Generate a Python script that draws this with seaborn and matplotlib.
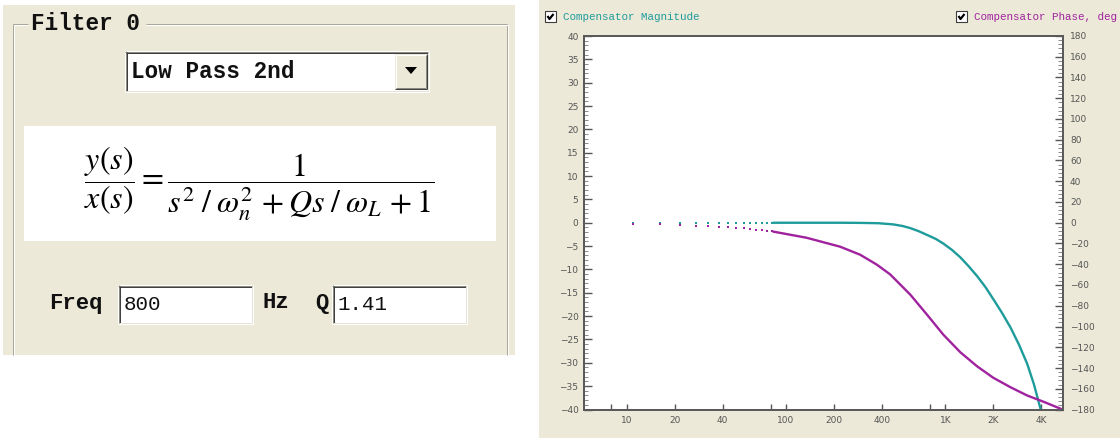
import matplotlib
matplotlib.use("Agg")
import matplotlib.pyplot as plt
import seaborn as sns
import pandas as pd
from matplotlib.patches import Rectangle, Polygon
from matplotlib.ticker import FixedLocator, MultipleLocator, NullFormatter, FixedFormatter

# ---------------- data ----------------
dot_freq_hz = [10.9, 16.3, 21.7, 27.1, 32.6, 38.0, 43.4, 48.9, 54.3, 59.7, 65.2, 70.6, 76.0, 81.4]
dot_mag_db = [0, 0, 0, 0, 0, 0, 0, 0, 0, 0, 0, 0, 0, 0]
dot_phase_deg = [-1.0, -1.6, -2.2, -2.7, -3.3, -3.8, -4.4, -5.0, -5.5, -6.1, -6.6, -7.2, -7.7, -8.3]

mag_freq_hz = [83, 150, 220, 292, 380, 471, 540, 603, 680, 767, 870, 971, 1100, 1242,
               1400, 1581, 1780, 2005, 2260, 2563, 2900, 3265, 3600, 3954, 4100]
mag_db = [0, 0, 0, -0.03, -0.1, -0.35, -0.7, -1.15, -1.8, -2.6, -3.45, -4.45, -5.8, -7.4,
          -9.3, -11.4, -13.7, -16.4, -19.2, -22.4, -26.1, -30.2, -34.6, -39.8, -43.0]

phase_freq_hz = [83, 135, 219, 292, 372, 451, 603, 767, 971, 1242, 1581, 2005, 2563,
                 3265, 4146, 5300, 5480]
phase_deg = [-8.5, -14.5, -23.1, -30.8, -40.4, -49.8, -69.3, -88.5, -107.8, -124.8,
             -138.3, -149.5, -158.5, -166.5, -172.6, -179.3, -180.0]

x_tick_values = [10, 20, 40, 100, 200, 400, 1000, 2000, 4000]
x_tick_labels = ["10", "20", "40", "100", "200", "400", "1K", "2K", "4K"]
x_extra_ticks = [8, 80, 800]

filter_title = "Filter 0"
filter_type = "Low Pass 2nd"
freq_value = "800"
q_value = "1.41"
legend_mag = "Compensator Magnitude"
legend_phase = "Compensator Phase, deg"

# ---------------- style ----------------
sns.set_style("white")
plt.rcParams["mathtext.fontset"] = "stix"
plt.rcParams["font.family"] = ["DejaVu Sans"]

TEAL = "#1e9b9b"
PURPLE = "#a0229e"
BEIGE = "#ECE9D8"
GRID = "#5a5a5a"
MONO = "Liberation Mono"

fig = plt.figure(figsize=(11.2, 4.38), dpi=100)
fig.patch.set_facecolor("white")

bg = fig.add_axes([0, 0, 1, 1], zorder=0)
bg.set_xlim(0, 1120)
bg.set_ylim(438, 0)
bg.axis("off")


def hline(x0, x1, y, c, w=1.0):
    bg.plot([x0, x1], [y, y], color=c, lw=w * 0.72, solid_capstyle="butt")


def vline(x, y0, y1, c, w=1.0):
    bg.plot([x, x], [y0, y1], color=c, lw=w * 0.72, solid_capstyle="butt")


def sunken(x0, y0, x1, y1):
    bg.add_patch(Rectangle((x0, y0), x1 - x0, y1 - y0, fc="white", ec="none"))
    hline(x0, x1, y0 + 0.5, "#8a8a80")
    vline(x0 + 0.5, y0, y1, "#8a8a80")
    hline(x0 + 1, x1 - 1, y0 + 1.5, "#404040")
    vline(x0 + 1.5, y0 + 1, y1 - 1, "#404040")
    hline(x0, x1, y1 - 0.5, "#ffffff")
    vline(x1 - 0.5, y0, y1, "#ffffff")
    hline(x0 + 1, x1 - 1, y1 - 1.5, "#e4e2d6")
    vline(x1 - 1.5, y0 + 1, y1 - 1, "#e4e2d6")


# ---------------- left panel ----------------
bg.add_patch(Rectangle((3, 5), 512, 350, fc=BEIGE, ec="none"))
for off, c in ((0, "#aca899"), (1, "#ffffff")):
    hline(13 + off, 28, 24 + off, c)
    hline(146, 507 + off, 24 + off, c)
    vline(13 + off, 24 + off, 355, c)
    vline(507 + off, 24 + off, 355, c)
bg.text(31, 24, filter_title, family=MONO, weight="bold", fontsize=16.3,
        ha="left", va="center", color="#111111")

# dropdown
sunken(125, 51, 429, 92)
bg.add_patch(Rectangle((395, 54), 32, 35, fc=BEIGE, ec="none"))
hline(395, 427, 54.5, "#ffffff")
vline(395.5, 54, 89, "#ffffff")
hline(395, 427, 88.5, "#404040")
vline(426.5, 54, 89, "#404040")
hline(396, 426, 87.5, "#8a8a80")
vline(425.5, 55, 88, "#8a8a80")
bg.add_patch(Polygon([[405, 67], [417, 67], [411, 74]], closed=True, fc="black", ec="none"))
bg.text(131, 71, filter_type, family=MONO, weight="bold", fontsize=16.3,
        ha="left", va="center", color="#111111")

# formula box
bg.add_patch(Rectangle((24, 126), 472, 115, fc="white", ec="none"))
bg.text(259, 184,
        r"$\dfrac{y(s)}{x(s)}=\dfrac{1}{s^2\;/\;\omega_n^2\,+Qs\;/\;\omega_L\,+1}$",
        fontsize=23, ha="center", va="center", color="black")

# freq / Q row
bg.text(49, 303, "Freq", family=MONO, weight="bold", fontsize=16,
        ha="left", va="center", color="#111111")
sunken(118, 285, 253, 324)
bg.text(124, 305, freq_value, family=MONO, fontsize=15, ha="left", va="center", color="#111111")
bg.text(262, 303, "Hz", family=MONO, weight="bold", fontsize=16,
        ha="left", va="center", color="#111111")
bg.text(315, 303, "Q", family=MONO, weight="bold", fontsize=16,
        ha="left", va="center", color="#111111")
sunken(332, 285, 467, 324)
bg.text(337, 305, q_value, family=MONO, fontsize=15, ha="left", va="center", color="#111111")

# ---------------- right panel ----------------
bg.add_patch(Rectangle((539, 0), 581, 438, fc=BEIGE, ec="none"))


def checkbox(x, y, label, color):
    bg.add_patch(Rectangle((x, y), 11, 11, fc="white", ec="#3c3c3c", lw=0.8))
    bg.plot([x + 2.5, x + 4.5, x + 8.5], [y + 5, y + 8, y + 3], color="black",
            lw=1.6, solid_capstyle="butt")
    bg.text(x + 18, y + 6, label, family=MONO, fontsize=7.8, color=color,
            ha="left", va="center")


checkbox(545, 11, legend_mag, TEAL)
checkbox(956, 11, legend_phase, PURPLE)

L, R, T, B = 584, 1063, 36, 409.5
ax = fig.add_axes([L / 1120, 1 - B / 438, (R - L) / 1120, (B - T) / 438], zorder=2)
ax.set_facecolor("white")
ax.set_xscale("log")
ax2 = ax.twinx()

mag_df = pd.DataFrame({"freq": mag_freq_hz, "mag": mag_db})
phase_df = pd.DataFrame({"freq": phase_freq_hz, "phase": phase_deg})
dots_df = pd.DataFrame({"freq": dot_freq_hz, "mag": dot_mag_db, "phase": dot_phase_deg})

sns.lineplot(data=phase_df, x="freq", y="phase", ax=ax2, color=PURPLE, lw=1.7,
             estimator=None, sort=False)
sns.scatterplot(data=dots_df, x="freq", y="phase", ax=ax2, color=PURPLE, s=2.5,
                marker="s", linewidth=0)
sns.lineplot(data=mag_df, x="freq", y="mag", ax=ax, color=TEAL, lw=1.7,
             estimator=None, sort=False)
sns.scatterplot(data=dots_df, x="freq", y="mag", ax=ax, color=TEAL, s=2.5,
                marker="s", linewidth=0)

ax.set_xlim(5.4, 5480)
ax.set_ylim(-40, 40)
ax2.set_ylim(-180, 180)
ax.set_xlabel("")
ax.set_ylabel("")
ax2.set_ylabel("")

ax.xaxis.set_major_locator(FixedLocator(x_tick_values))
ax.xaxis.set_major_formatter(FixedFormatter(x_tick_labels))
ax.xaxis.set_minor_locator(FixedLocator(x_extra_ticks))
ax.xaxis.set_minor_formatter(NullFormatter())
ax.yaxis.set_major_locator(MultipleLocator(5))
ax.yaxis.set_minor_locator(MultipleLocator(1))
ax2.yaxis.set_major_locator(MultipleLocator(20))
ax2.yaxis.set_minor_locator(MultipleLocator(4))

lab = dict(labelsize=6.5, labelcolor="#555555", colors="#555555")
ax.tick_params(axis="x", which="both", direction="in", length=4, width=1, pad=5,
               bottom=True, **lab)
ax.tick_params(axis="y", which="major", direction="in", length=6, width=1, pad=4,
               left=True, **lab)
ax.tick_params(axis="y", which="minor", direction="in", length=3, width=0.6, left=True,
               colors="#777777")
ax2.tick_params(axis="y", which="major", direction="in", length=6, width=1, pad=5,
                right=True, **lab)
ax2.tick_params(axis="y", which="minor", direction="in", length=3.5, width=0.6, right=True,
                colors="#777777")

for a in (ax, ax2):
    for s in a.spines.values():
        s.set_visible(True)
        s.set_color(GRID)
        s.set_linewidth(1.4)
ax2.set_zorder(3)
ax2.patch.set_visible(False)

fig.savefig("out.png", dpi=100, facecolor="white")
